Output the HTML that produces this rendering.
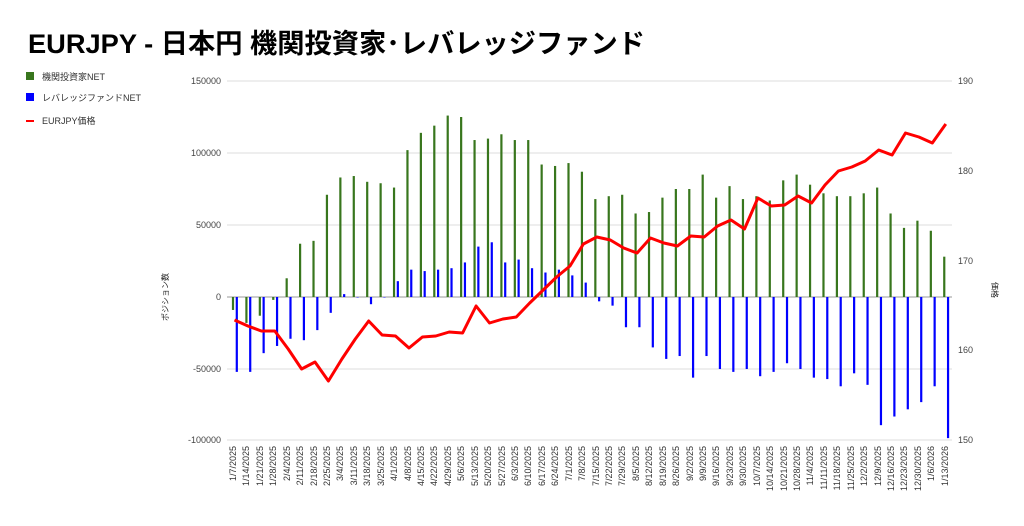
<!DOCTYPE html>
<html><head><meta charset="utf-8"><style>
body{margin:0;background:#fff;width:1024px;height:521px;overflow:hidden;font-family:"Liberation Sans","Noto Sans CJK JP",sans-serif}
</style></head><body>
<svg id="s" width="1024" height="521" xmlns="http://www.w3.org/2000/svg" font-family="Liberation Sans, Noto Sans CJK JP, sans-serif">
<text x="28" y="53" font-size="27" font-weight="bold" fill="#000" textLength="617" lengthAdjust="spacingAndGlyphs">EURJPY - 日本円 機関投資家･レバレッジファンド</text>
<rect x="26" y="72" width="8" height="8" fill="#38761d"/><text x="42" y="80" font-size="9" fill="#333">機関投資家NET</text>
<rect x="26" y="93" width="8" height="8" fill="#0000ff"/><text x="42" y="101" font-size="9" fill="#333">レバレッジファンドNET</text>
<rect x="26" y="120" width="8" height="2" fill="#ff0000"/><text x="42" y="124" font-size="9" fill="#333">EURJPY価格</text>
<g stroke="#ddd" stroke-width="1">
<line x1="227" x2="952" y1="81" y2="81"/><line x1="227" x2="952" y1="153" y2="153"/><line x1="227" x2="952" y1="225" y2="225"/><line x1="227" x2="952" y1="440" y2="440"/><line x1="227" x2="952" y1="369" y2="369"/>
</g>
<line x1="227" x2="952" y1="297" y2="297" stroke="#999"/>
<g font-size="9" fill="#444" text-anchor="end">
<text x="221" y="84">150000</text><text x="221" y="156">100000</text><text x="221" y="228">50000</text><text x="221" y="300">0</text><text x="221" y="372">-50000</text><text x="221" y="443">-100000</text>
</g>
<g font-size="9" fill="#444">
<text x="958" y="84">190</text><text x="958" y="174">180</text><text x="958" y="264">170</text><text x="958" y="353">160</text><text x="958" y="443">150</text>
</g>
<text transform="translate(168,297) rotate(-90)" font-size="8" text-anchor="middle" fill="#222">ポジション数</text>
<text transform="translate(992,290) rotate(90)" font-size="8" text-anchor="middle" fill="#222">価格</text>
<g id="bars"></g>
<g id="labels" font-size="9" fill="#333" text-anchor="end">
<text transform="translate(236,446) rotate(-90)">1/7/2025</text>
<text transform="translate(249,446) rotate(-90)">1/14/2025</text>
<text transform="translate(263,446) rotate(-90)">1/21/2025</text>
<text transform="translate(276,446) rotate(-90)">1/28/2025</text>
<text transform="translate(290,446) rotate(-90)">2/4/2025</text>
<text transform="translate(303,446) rotate(-90)">2/11/2025</text>
<text transform="translate(317,446) rotate(-90)">2/18/2025</text>
<text transform="translate(330,446) rotate(-90)">2/25/2025</text>
<text transform="translate(343,446) rotate(-90)">3/4/2025</text>
<text transform="translate(357,446) rotate(-90)">3/11/2025</text>
<text transform="translate(370,446) rotate(-90)">3/18/2025</text>
<text transform="translate(384,446) rotate(-90)">3/25/2025</text>
<text transform="translate(397,446) rotate(-90)">4/1/2025</text>
<text transform="translate(411,446) rotate(-90)">4/8/2025</text>
<text transform="translate(424,446) rotate(-90)">4/15/2025</text>
<text transform="translate(437,446) rotate(-90)">4/22/2025</text>
<text transform="translate(451,446) rotate(-90)">4/29/2025</text>
<text transform="translate(464,446) rotate(-90)">5/6/2025</text>
<text transform="translate(478,446) rotate(-90)">5/13/2025</text>
<text transform="translate(491,446) rotate(-90)">5/20/2025</text>
<text transform="translate(505,446) rotate(-90)">5/27/2025</text>
<text transform="translate(518,446) rotate(-90)">6/3/2025</text>
<text transform="translate(531,446) rotate(-90)">6/10/2025</text>
<text transform="translate(545,446) rotate(-90)">6/17/2025</text>
<text transform="translate(558,446) rotate(-90)">6/24/2025</text>
<text transform="translate(572,446) rotate(-90)">7/1/2025</text>
<text transform="translate(585,446) rotate(-90)">7/8/2025</text>
<text transform="translate(599,446) rotate(-90)">7/15/2025</text>
<text transform="translate(612,446) rotate(-90)">7/22/2025</text>
<text transform="translate(625,446) rotate(-90)">7/29/2025</text>
<text transform="translate(639,446) rotate(-90)">8/5/2025</text>
<text transform="translate(652,446) rotate(-90)">8/12/2025</text>
<text transform="translate(666,446) rotate(-90)">8/19/2025</text>
<text transform="translate(679,446) rotate(-90)">8/26/2025</text>
<text transform="translate(693,446) rotate(-90)">9/2/2025</text>
<text transform="translate(706,446) rotate(-90)">9/9/2025</text>
<text transform="translate(719,446) rotate(-90)">9/16/2025</text>
<text transform="translate(733,446) rotate(-90)">9/23/2025</text>
<text transform="translate(746,446) rotate(-90)">9/30/2025</text>
<text transform="translate(760,446) rotate(-90)">10/7/2025</text>
<text transform="translate(773,446) rotate(-90)">10/14/2025</text>
<text transform="translate(787,446) rotate(-90)">10/21/2025</text>
<text transform="translate(800,446) rotate(-90)">10/28/2025</text>
<text transform="translate(813,446) rotate(-90)">11/4/2025</text>
<text transform="translate(827,446) rotate(-90)">11/11/2025</text>
<text transform="translate(840,446) rotate(-90)">11/18/2025</text>
<text transform="translate(854,446) rotate(-90)">11/25/2025</text>
<text transform="translate(867,446) rotate(-90)">12/2/2025</text>
<text transform="translate(881,446) rotate(-90)">12/9/2025</text>
<text transform="translate(894,446) rotate(-90)">12/16/2025</text>
<text transform="translate(907,446) rotate(-90)">12/23/2025</text>
<text transform="translate(921,446) rotate(-90)">12/30/2025</text>
<text transform="translate(934,446) rotate(-90)">1/6/2026</text>
<text transform="translate(948,446) rotate(-90)">1/13/2026</text>
</g>
<polyline id="line" fill="none" stroke="#ff0000" stroke-width="3" stroke-linejoin="round"/>
</svg>
<script>
var g=[-9,-18,-13,-2,13,37,39,71,83,84,80,79,76,102,114,119,126,125,109,110,113,109,109,92,91,93,87,68,70,71,58,59,69,75,75,85,69,77,68,70,67,81,85,78,72,70,70,72,76,58,48,53,46,28];
var b=[-52,-52,-39,-34,-29,-30,-23,-11,2,0,-5,0,11,19,18,19,20,24,35,38,24,26,20,17,19,15,10,-3,-6,-21,-21,-35,-43,-41,-56,-41,-50,-52,-50,-55,-52,-46,-50,-56,-57,-62,-53,-61,-89,-83,-78,-73,-62,-98];
var r=[320,326,331,331,349,369,362,381,359,339,321,335,336,348,337,336,332,333,306,323,319,317,303,290,277,266,244,237,240,248,253,238,243,246,236,237,226,220,229,198,206,205,196,203,185,171,167,161,150,155,133,137,143,124];
var ns="http://www.w3.org/2000/svg",bars=document.getElementById("bars"),pts=[];
function bar(x,v,c){var y=297-v*72/50;var e=document.createElementNS(ns,"rect");e.setAttribute("x",x);e.setAttribute("width",2.2);e.setAttribute("y",Math.min(y,297));e.setAttribute("height",Math.max(Math.abs(y-297),0.5));e.setAttribute("fill",c);bars.appendChild(e);}
for(var i=0;i<54;i++){var c=234.5+13.42*i;bar(c-2.6,g[i],"#38761d");bar(c+1.2,b[i],"#0000ff");pts.push(c.toFixed(1)+","+r[i]);}
document.getElementById("line").setAttribute("points",pts.join(" "));
</script>
</body></html>
